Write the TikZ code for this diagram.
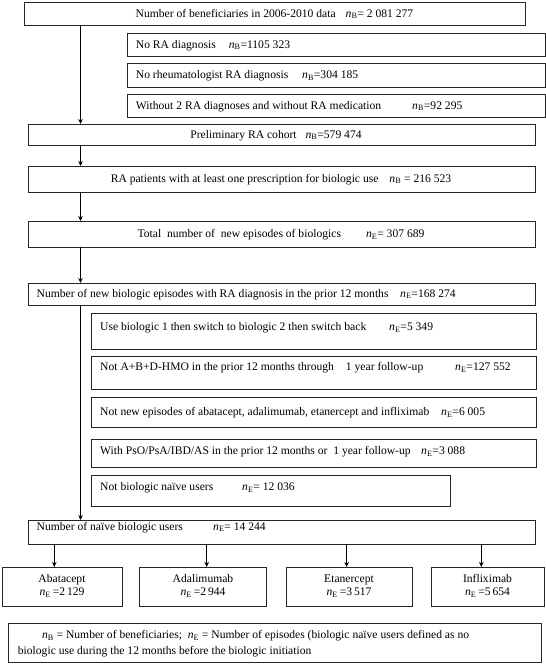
\documentclass[tikz,border=0pt]{standalone}
\usepackage{fontspec}
\setmainfont{Liberation Serif}
\usetikzlibrary{arrows.meta}
\newcommand\nsubB{\textit{n}\textsubscript{B}}
\newcommand\nsubE{\textit{n}\textsubscript{E}}
\begin{document}
\begin{tikzpicture}[x=1pt,y=-1pt,
  box/.style={draw=black!85, line width=0.9pt, inner sep=0pt, outer sep=0pt, anchor=north west},
  txt/.style={inner sep=0pt, anchor=base west, font=\fontsize{11.6}{13.5}\selectfont},
  ctxt/.style={inner sep=0pt, anchor=base, font=\fontsize{11.6}{13.5}\selectfont},
  arr/.style={line width=0.9pt, -{Stealth[length=5pt,width=4.5pt]}}]
\useasboundingbox (0,0) rectangle (546,667);
% boxes
\node[box, minimum width=501, minimum height=23] (b1) at (24,2) {};
\node[box, minimum width=418, minimum height=23] (x1) at (127,33) {};
\node[box, minimum width=418, minimum height=24] (x2) at (127,63) {};
\node[box, minimum width=418, minimum height=23] (x3) at (127,94) {};
\node[box, minimum width=507, minimum height=21] (pre) at (28,124) {};
\node[box, minimum width=507, minimum height=26] (rap) at (28,166) {};
\node[box, minimum width=507, minimum height=26] (tot) at (28,221) {};
\node[box, minimum width=507, minimum height=22] (nnew) at (28,283) {};
\node[box, minimum width=445, minimum height=36] (e1) at (91,313) {};
\node[box, minimum width=445, minimum height=33] (e2) at (91,356) {};
\node[box, minimum width=445, minimum height=30] (e3) at (91,397) {};
\node[box, minimum width=445, minimum height=28] (e4) at (91,439) {};
\node[box, minimum width=359, minimum height=31] (e5) at (91,475) {};
\node[box, minimum width=507, minimum height=24] (nai) at (28,520) {};
\node[box, minimum width=120, minimum height=39] (s1) at (2,567) {};
\node[box, minimum width=127, minimum height=39] (s2) at (139,567) {};
\node[box, minimum width=126, minimum height=39] (s3) at (286,567) {};
\node[box, minimum width=113, minimum height=39] (s4) at (431,567) {};
\node[box, minimum width=533, minimum height=39] (foot) at (8,623) {};
% texts
\node[ctxt] (t1) at (274.5,17) {Number of beneficiaries in 2006-2010 data\hspace{10pt}\nsubB= 2 081 277};
\node[txt] (tx1) at (135.7,48) {No RA diagnosis};
\node[txt] (nx1) at (228.6,48) {\nsubB=1105 323};
\node[txt] (tx2) at (135.7,78.5) {No rheumatologist RA diagnosis};
\node[txt] (nx2) at (302,78.5) {\nsubB=304 185};
\node[txt] (tx3) at (135.7,109) {Without 2 RA diagnoses and without RA medication};
\node[txt] (nx3) at (412,109) {\nsubB=92 295};
\node[ctxt] (tpre) at (276,138) {Preliminary RA cohort\hspace{9pt}\nsubB=579 474};
\node[ctxt] (trap) at (281,182) {RA patients with at least one prescription for biologic use\hspace{11pt}\nsubB{} = 216 523};
\node[ctxt] (ttot) at (281,237.5) {Total\ \ number of\ \ new episodes of biologics\hspace{25pt}\nsubE= 307 689};
\node[txt] (tnew) at (36.5,297) {Number of new biologic episodes with RA diagnosis in the prior 12 months};
\node[txt] (nnw) at (400,297) {\nsubE=168 274};
\node[txt] (te1) at (100,330.5) {Use biologic 1 then switch to biologic 2 then switch back};
\node[txt] (ne1) at (389,330.5) {\nsubE=5 349};
\node[txt] (te2) at (100,370.5) {Not A+B+D-HMO in the prior 12 months through\hspace{12pt}1 year follow-up};
\node[txt] (ne2) at (455,370.5) {\nsubE=127 552};
\node[txt] (te3) at (100,415.5) {Not new episodes of abatacept, adalimumab, etanercept and infliximab};
\node[txt] (ne3) at (441,415.5) {\nsubE=6 005};
\node[txt] (te4) at (100,454.5) {With PsO/PsA/IBD/AS in the prior 12 months or\ \ 1 year follow-up};
\node[txt] (ne4) at (421,454.5) {\nsubE=3 088};
\node[txt] (te5) at (100,490.5) {Not biologic naïve users};
\node[txt] (ne5) at (242,490.5) {\nsubE= 12 036};
\node[txt] (tnai) at (36.5,530) {Number of naïve biologic users};
\node[txt] (nnai) at (213,530) {\nsubE= 14 244};
\node[ctxt] (ts1) at (62,582.5) {Abatacept};
\node[ctxt] (ns1) at (62,595.5) {\nsubE\,=2\,129};
\node[ctxt] (ts2) at (203,582.5) {Adalimumab};
\node[ctxt] (ns2) at (203,595.5) {\nsubE\,=2\,944};
\node[ctxt] (ts3) at (349,582.5) {Etanercept};
\node[ctxt] (ns3) at (349,595.5) {\nsubE\,=3\,517};
\node[ctxt] (ts4) at (487.5,582.5) {Infliximab};
\node[ctxt] (ns4) at (487.5,595.5) {\nsubE\,=5\,654};
\node[txt] (f1) at (41.8,638.5) {\nsubB{} = Number of beneficiaries;\ \ \nsubE{} = Number of episodes (biologic naïve users defined as no};
\node[txt] (f2) at (17.7,654.5) {biologic use during the 12 months before the biologic initiation};
% arrows
\coordinate (ax) at (80.5,0);
\coordinate (a1) at (54.3,0);
\coordinate (a2) at (206.7,0);
\coordinate (a3) at (346.6,0);
\coordinate (a4) at (481.3,0);
\draw[arr] (ax |- b1.south) -- (ax |- pre.north);
\draw[arr] (ax |- pre.south) -- (ax |- rap.north);
\draw[arr] (ax |- rap.south) -- (ax |- tot.north);
\draw[arr] (ax |- tot.south) -- (ax |- nnew.north);
\draw[arr] (ax |- nnew.south) -- (ax |- nai.north);
\draw[arr] (a1 |- nai.south) -- (a1 |- s1.north);
\draw[arr] (a2 |- nai.south) -- (a2 |- s2.north);
\draw[arr] (a3 |- nai.south) -- (a3 |- s3.north);
\draw[arr] (a4 |- nai.south) -- (a4 |- s4.north);
\end{tikzpicture}
\end{document}
